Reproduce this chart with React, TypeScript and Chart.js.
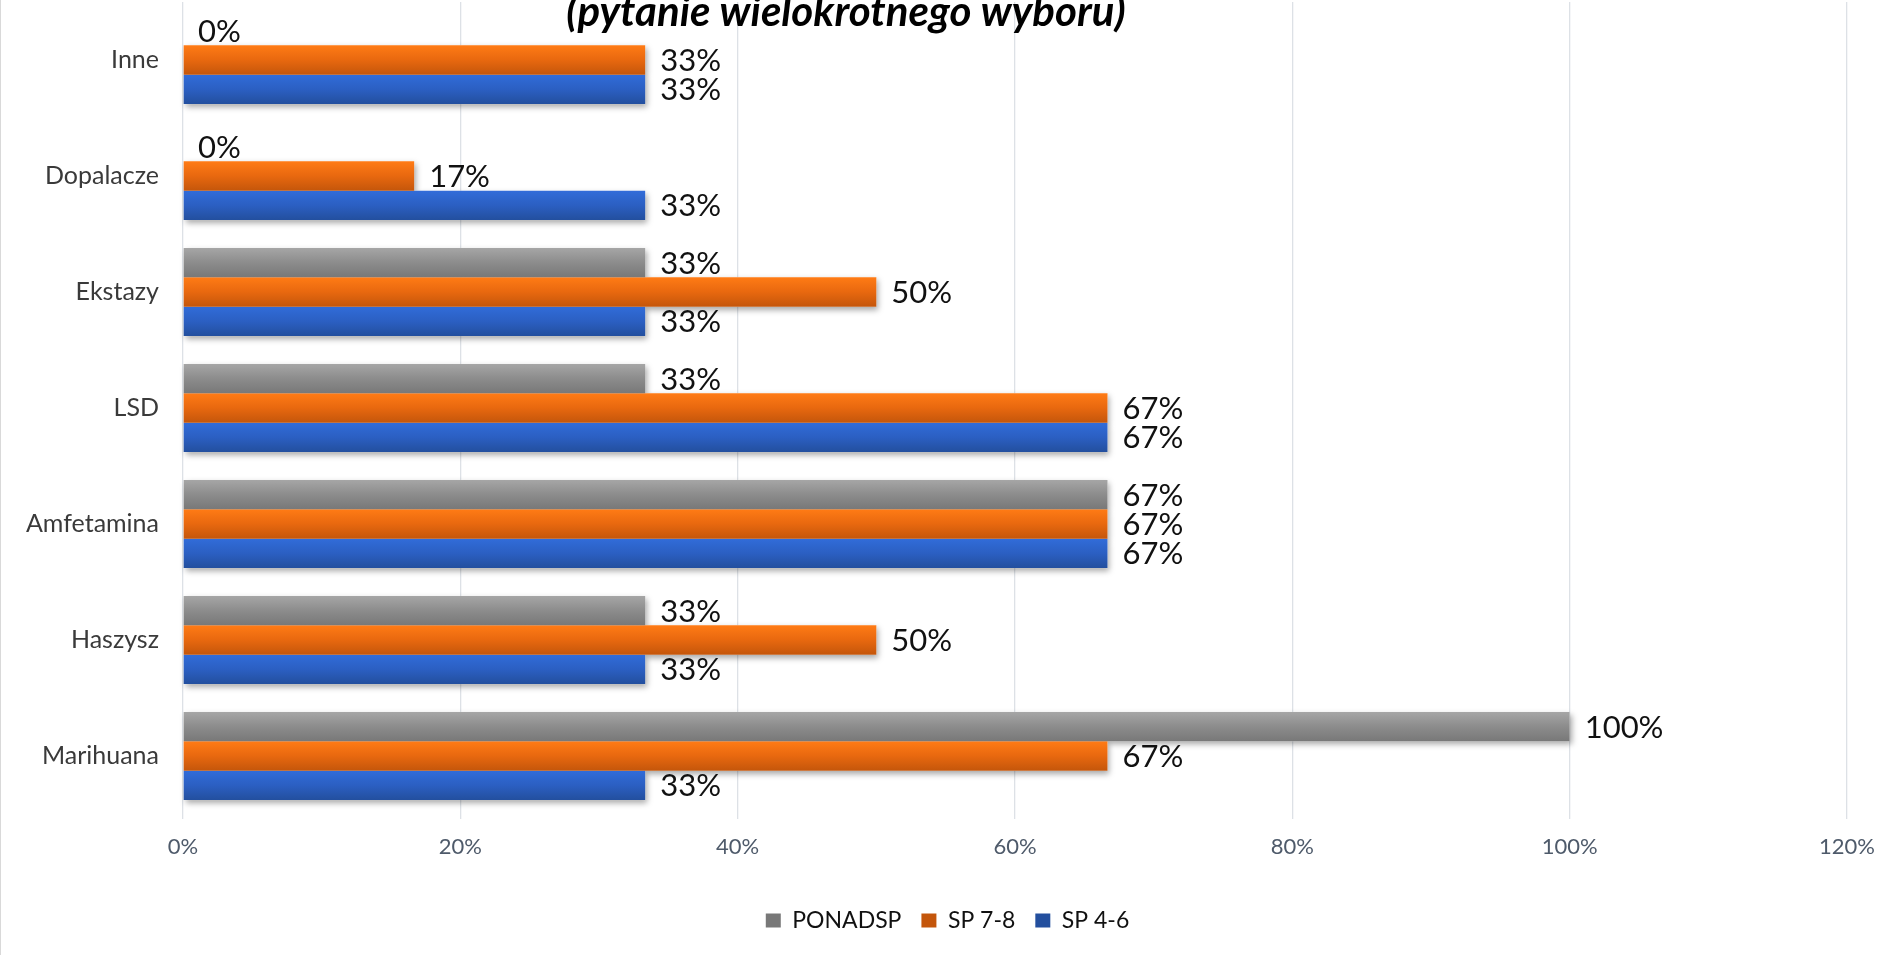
import React, { useEffect, useRef } from "react";
import { Chart, registerables } from "chart.js";

Chart.register(...registerables);

const categories = ["Inne", "Dopalacze", "Ekstazy", "LSD", "Amfetamina", "Haszysz", "Marihuana"];
const ponadsp = [0, 0, 33.33, 33.33, 66.67, 33.33, 100];
const sp78 = [33.33, 16.67, 50, 66.67, 66.67, 50, 66.67];
const sp46 = [33.33, 33.33, 33.33, 66.67, 66.67, 33.33, 33.33];
const seriesNames = ["PONADSP", "SP 7-8", "SP 4-6"];
const xTicks = [0, 20, 40, 60, 80, 100, 120];
const titleText = "(pytanie wielokrotnego wyboru)";

const gradStops: [string, string, string][] = [
  ["#a6a6a6", "#8c8c8c", "#787878"],
  ["#ff7b15", "#e8680f", "#c4560b"],
  ["#316cd9", "#2b5fc2", "#234f9e"],
];
const solids = ["#919191", "#ee6c11", "#2a5cbf"];

const CAT_PCT = 0.76;
const FONT = "Lato, 'Open Sans', sans-serif";

function barColor(dsIndex: number) {
  return (ctx: any) => {
    const chart = ctx.chart;
    const y = chart.scales && chart.scales.y;
    if (ctx.type !== "data" || !y || !chart.chartArea) return solids[dsIndex];
    const n = categories.length;
    const size = (chart.chartArea.bottom - chart.chartArea.top) / n;
    const center = y.getPixelForValue(ctx.dataIndex);
    const stack = size * CAT_PCT;
    const bh = stack / 3;
    const top = center - stack / 2 + dsIndex * bh;
    const g = chart.ctx.createLinearGradient(0, top, 0, top + bh);
    g.addColorStop(0, gradStops[dsIndex][0]);
    g.addColorStop(0.5, gradStops[dsIndex][1]);
    g.addColorStop(1, gradStops[dsIndex][2]);
    return g;
  };
}

const shadowPlugin = {
  id: "barShadow",
  beforeDatasetsDraw(chart: any) {
    const ctx = chart.ctx;
    ctx.save();
    ctx.shadowColor = "rgba(0,0,0,0.35)";
    ctx.shadowBlur = 6;
    ctx.shadowOffsetX = 2;
    ctx.shadowOffsetY = 3;
    ctx.fillStyle = "#ffffff";
    chart.data.datasets.forEach((_: any, i: number) => {
      const meta = chart.getDatasetMeta(i);
      meta.data.forEach((el: any) => {
        const p = el.getProps(["x", "y", "base", "height"], true);
        const w = p.x - p.base;
        if (w <= 0.5) return;
        ctx.fillRect(p.base, p.y - p.height / 2, w, p.height);
      });
    });
    ctx.restore();
  },
};

const labelPlugin = {
  id: "valueLabels",
  afterDatasetsDraw(chart: any) {
    const ctx = chart.ctx;
    ctx.save();
    ctx.font = `31px ${FONT}`;
    ctx.fillStyle = "#111111";
    ctx.textAlign = "left";
    ctx.textBaseline = "middle";
    chart.data.datasets.forEach((ds: any, i: number) => {
      const meta = chart.getDatasetMeta(i);
      meta.data.forEach((el: any, j: number) => {
        const p = el.getProps(["x", "y"], true);
        ctx.fillText(Math.round(ds.data[j]) + "%", p.x + 15, p.y + 1);
      });
    });
    ctx.restore();
  },
};

const decorPlugin = {
  id: "decor",
  afterLayout(chart: any) {
    if (chart.legend) {
      chart.legend.left += 24;
      chart.legend.right += 24;
    }
  },
  afterDraw(chart: any) {
    const ctx = chart.ctx;
    ctx.save();
    ctx.fillStyle = "#d9d9d9";
    ctx.fillRect(0, 0, 1, chart.height);
    ctx.font = `italic bold 42px ${FONT}`;
    ctx.fillStyle = "#000000";
    ctx.textAlign = "center";
    ctx.textBaseline = "alphabetic";
    ctx.fillText(titleText, 846, 26);
    ctx.restore();
  },
};

export default function App() {
  const ref = useRef<HTMLCanvasElement | null>(null);
  useEffect(() => {
    document.body.style.margin = "0";
    const canvas = ref.current!;
    const chart = new Chart(canvas, {
      type: "bar",
      data: {
        labels: categories,
        datasets: [ponadsp, sp78, sp46].map((d, i) => ({
          label: seriesNames[i],
          data: d,
          backgroundColor: barColor(i),
          borderWidth: 0,
          barPercentage: 1,
          categoryPercentage: CAT_PCT,
        })),
      },
      options: {
        indexAxis: "y",
        animation: false,
        responsive: false,
        maintainAspectRatio: false,
        layout: { padding: { top: 2, right: 34, bottom: 13, left: 0 } },
        scales: {
          x: {
            min: 0,
            max: 120,
            afterBuildTicks: (scale: any) => {
              scale.ticks = xTicks.map((v) => ({ value: v }));
            },
            ticks: {
              callback: (v: any) => v + "%",
              font: { family: FONT, size: 22 },
              color: "#4e5a6a",
              padding: 15,
              maxRotation: 0,
            },
            grid: { color: "#dde1e6", lineWidth: 1.3, tickLength: 5, drawTicks: true },
            border: { display: false },
            afterFit: (scale: any) => {
              scale.height = 75;
              scale.paddingLeft = 0;
              scale.paddingRight = 0;
            },
          },
          y: {
            ticks: {
              font: { family: FONT, size: 25 },
              color: "#3a3a3a",
              padding: 24,
            },
            grid: { display: false, drawTicks: false },
            border: { display: false },
            afterFit: (scale: any) => {
              scale.width = 183;
              scale.paddingTop = 0;
              scale.paddingBottom = 0;
            },
          },
        },
        plugins: {
          title: { display: false },
          tooltip: { enabled: false },
          legend: {
            position: "bottom",
            labels: {
              font: { family: FONT, size: 23 },
              color: "#111111",
              boxWidth: 15,
              boxHeight: 14,
              padding: 20,
            },
          },
        },
      },
      plugins: [shadowPlugin, labelPlugin, decorPlugin],
    } as any);
    return () => chart.destroy();
  }, []);
  return <canvas ref={ref} width={1881} height={955} style={{ display: "block" }} />;
}
